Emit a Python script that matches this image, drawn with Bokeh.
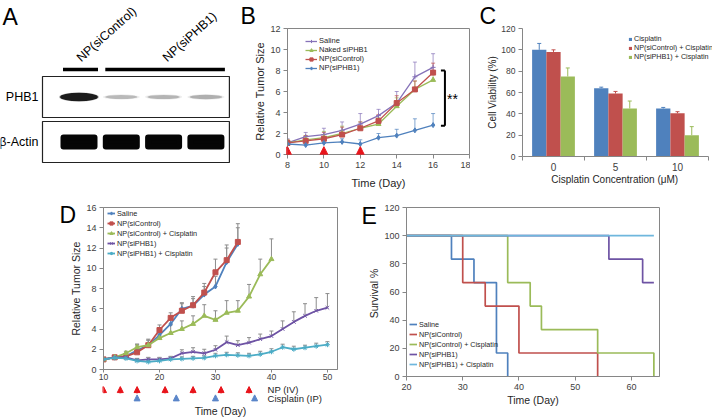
from bokeh.plotting import figure
from bokeh.models import (Range1d, FixedTicker, Whisker, TeeHead, Arrow, NormalHead,
                          Label, Legend, LegendItem, ColumnDataSource)
from bokeh.layouts import row, column
from bokeh.embed import file_html
from bokeh.resources import INLINE
from bokeh.core.properties import value

# ---------------- data ----------------
# Panel A: western blot
blot_rows = ["PHB1", "β-Actin"]
blot_groups = ["NP(siControl)", "NP(siPHB1)"]
blot_group_lanes = [[0], [1, 2, 3]]
phb1_intensity = [1.0, 0.26, 0.28, 0.30]
actin_intensity = [1.0, 1.0, 1.0, 1.0]

# Panel B
b_days = [8, 9, 10, 11, 12, 13, 14, 15, 16]
b_names = ["Saline", "Naked siPHB1", "NP(siControl)", "NP(siPHB1)"]
b_saline = [1.1, 1.7, 1.9, 2.3, 2.9, 3.7, 4.9, 7.4, 8.3]
b_saline_up = [1.5, 2.1, 2.5, 3.1, 3.9, 4.3, 6.0, 8.8, 9.6]
b_naked = [1.1, 1.4, 1.6, 2.0, 2.5, 2.9, 4.6, 6.2, 7.1]
b_naked_up = [1.4, 1.8, 2.2, 2.7, 3.1, 3.5, 5.4, 7.0, 8.0]
b_npctrl = [1.1, 1.3, 1.5, 1.9, 2.5, 3.2, 4.9, 6.2, 7.8]
b_npctrl_up = [1.4, 1.8, 2.1, 2.6, 3.1, 3.8, 5.6, 7.0, 8.7]
b_npphb1 = [1.0, 0.9, 1.1, 1.2, 1.0, 1.6, 1.8, 2.3, 2.8]
b_npphb1_up = [1.3, 1.2, 1.5, 1.5, 1.4, 2.0, 2.4, 3.4, 3.9]
b_dose_days = [8, 10, 12]

# Panel C
c_conc = ["0", "5", "10"]
c_names = ["Cisplatin", "NP(siControl) + Cisplatin", "NP(siPHB1) + Cisplatin"]
c_cis = [100, 64, 45]
c_cis_up = [106, 65, 46]
c_ctrl = [98, 59, 40.5]
c_ctrl_up = [100, 61, 42]
c_phb = [75, 45, 20]
c_phb_up = [83, 52, 28]

# Panel D
d_names = ["Saline", "NP(siControl)", "NP(siControl) + Cisplatin", "NP(siPHB1)", "NP(siPHB1) + Cisplatin"]
d_days_a = [10, 12, 14, 16, 18, 20, 22, 24, 26, 28, 30, 32, 34]
d_days_b = [10, 12, 14, 16, 18, 20, 22, 24, 26, 28, 30, 32, 34, 36, 38, 40]
d_days_c = [10, 12, 14, 16, 18, 20, 22, 24, 26, 28, 30, 32, 34, 36, 38, 40, 42, 44, 46, 48, 50]
d_saline = [1.0, 1.2, 1.3, 1.9, 2.4, 3.4, 4.5, 6.0, 6.3, 7.4, 8.2, 10.6, 12.4]
d_saline_up = [1.05, 1.35, 1.55, 2.4, 2.9, 4.0, 5.1, 6.5, 7.0, 8.2, 9.2, 12.0, 14.0]
d_ctrl = [1.0, 1.2, 1.3, 1.7, 2.4, 3.9, 5.1, 5.8, 6.35, 7.6, 9.6, 10.8, 12.6]
d_ctrl_up = [1.05, 1.4, 1.6, 2.5, 3.0, 4.4, 5.6, 6.6, 7.2, 8.5, 10.9, 12.3, 14.4]
d_ctrl_cis = [1.0, 1.2, 1.6, 2.2, 2.4, 3.1, 3.6, 4.0, 4.5, 5.3, 4.9, 5.6, 5.8, 7.2, 9.4, 10.9]
d_ctrl_cis_up = [1.05, 1.4, 1.8, 2.5, 2.9, 3.5, 4.4, 4.8, 5.3, 6.4, 5.8, 6.8, 6.8, 8.4, 10.9, 12.9]
d_phb = [1.0, 1.2, 1.2, 0.9, 1.0, 1.0, 1.1, 1.6, 1.75, 1.6, 1.95, 2.7, 2.4, 2.65, 3.0, 3.3, 4.0, 4.7, 5.3, 5.8, 6.1]
d_phb_up = [1.05, 1.35, 1.4, 1.1, 1.2, 1.2, 1.3, 1.95, 2.15, 2.0, 2.35, 3.3, 2.85, 3.15, 3.5, 3.8, 4.8, 5.7, 6.5, 7.1, 7.5]
d_phb_cis = [1.0, 1.15, 1.1, 0.85, 0.75, 0.85, 1.0, 1.05, 1.1, 1.15, 1.35, 1.45, 1.4, 1.35, 1.5, 1.75, 2.2, 2.0, 2.15, 2.3, 2.45]
d_phb_cis_up = [1.05, 1.3, 1.3, 1.05, 0.95, 1.05, 1.2, 1.25, 1.3, 1.35, 1.6, 1.7, 1.65, 1.6, 1.8, 2.05, 2.5, 2.3, 2.4, 2.6, 2.75]
d_np_days = [10, 13, 16, 21, 26, 31, 36]
d_cis_days = [16, 23, 30, 37]
d_schedule = ["NP (IV)", "Cisplatin (IP)"]

# Panel E (survival, step after)
e_saline_t = [20, 28, 32, 36, 38]
e_saline_s = [100, 83.3, 66.7, 16.7, 0]
e_ctrl_t = [20, 30, 34, 40, 54]
e_ctrl_s = [100, 66.7, 50, 16.7, 0]
e_ctrl_cis_t = [20, 38, 42, 44, 54, 64]
e_ctrl_cis_s = [100, 66.7, 50, 33.3, 16.7, 0]
e_phb_t = [20, 56, 62, 64]
e_phb_s = [100, 83.3, 66.7, 66.7]
e_phb_cis_t = [20, 64]
e_phb_cis_s = [100, 100]

# ---------------- styling helpers ----------------
FONT = "Liberation Sans"
AX = "#868686"
TXT = "#404040"


def fpx(v):
    return f"{v:.1f}px"


def mkfig(w, h, left, right, top, bottom, **kw):
    return figure(width=w, height=h, toolbar_location=None, output_backend="svg",
                  frame_align=False, min_border_left=left, min_border_right=right,
                  min_border_top=top, min_border_bottom=bottom, **kw)


def style(p, tick_fs, label_fs, xstand, ystand):
    p.grid.visible = False
    for ax in p.axis:
        ax.axis_line_color = AX
        ax.major_tick_line_color = AX
        ax.major_tick_out = 4
        ax.major_tick_in = 0
        ax.minor_tick_line_color = None
        ax.major_label_text_font = FONT
        ax.major_label_text_font_size = fpx(tick_fs)
        ax.major_label_text_color = TXT
        ax.major_label_standoff = 3
        ax.axis_label_text_font = FONT
        ax.axis_label_text_font_size = fpx(label_fs)
        ax.axis_label_text_font_style = "normal"
        ax.axis_label_text_color = "#262626"
    p.xaxis.axis_label_standoff = xstand
    p.yaxis.axis_label_standoff = ystand


def place_legend(p, items, frame_h, left, top, pitch, font, glyph_w, glyph_h=None):
    n = len(items)
    leg = Legend(items=items, location=(left, frame_h - top - n * pitch), padding=0, margin=0,
                 spacing=0, label_height=int(round(pitch)),
                 glyph_height=glyph_h if glyph_h else int(round(pitch)), glyph_width=glyph_w,
                 label_standoff=2, border_line_color=None, background_fill_alpha=0,
                 label_text_font=FONT, label_text_font_size=fpx(font),
                 label_text_color="#262626", label_text_baseline="middle")
    p.add_layout(leg)


def letter(p, text, offset, standoff):
    p.title.text = text
    p.title.align = "left"
    p.title.offset = offset
    p.title.standoff = standoff
    p.title.text_font = FONT
    p.title.text_font_size = fpx(23)
    p.title.text_font_style = "normal"
    p.title.text_color = "black"


# ---------------- Panel A ----------------
pA = figure(width=230, height=200, x_range=Range1d(0, 230), y_range=Range1d(200, 0),
            toolbar_location=None, output_backend="svg", min_border=0, frame_align=False,
            x_axis_type=None, y_axis_type=None, title=None)
pA.grid.visible = False
pA.outline_line_color = None
lane_x = [78.5 + 42.3 * i for i in range(len(phb1_intensity))]
row_y = [96.5, 141.5]
pA.quad(left=[lane_x[0] - 36.5] * 2, right=[lane_x[-1] + 23.5] * 2,
        top=[r - 20.5 for r in row_y], bottom=[r + 20.5 for r in row_y],
        fill_color="white", line_color="#222222", line_width=1.2)
pA.ellipse(x=lane_x, y=[row_y[0]] * 4, width=[30 + 8 * v for v in phb1_intensity],
           height=[2.5 + 6 * v for v in phb1_intensity], fill_color="black",
           fill_alpha=[0.85 * v for v in phb1_intensity], line_color=None)
pA.ellipse(x=lane_x, y=[row_y[0]] * 4, width=[36 + 4 * v for v in phb1_intensity],
           height=[4 + 5 * v for v in phb1_intensity], fill_color="black",
           fill_alpha=[0.25 * v for v in phb1_intensity], line_color=None)
# actin bands: rounded rectangles (thick round-joined outline)
pA.rect(x=lane_x, y=[row_y[1]] * 4, width=[31 * v for v in actin_intensity],
        height=[9 * v for v in actin_intensity], fill_color="#050505",
        line_color="#050505", line_width=6, line_join="round")
gx0 = [lane_x[g[0]] - 16 for g in blot_group_lanes]
gx1 = [lane_x[g[-1]] + 19 for g in blot_group_lanes]
pA.segment(x0=gx0, y0=[69, 69], x1=gx1, y1=[69, 69], line_color="black", line_width=3.3)
pA.text(x=[lane_x[0] - 0.5, lane_x[2] + 1], y=[59, 59], text=blot_groups, angle=0.73,
        text_font=value(FONT), text_font_size=fpx(12.5), text_baseline="alphabetic",
        text_align="left", text_color="black")
pA.text(x=[38, 38], y=row_y, text=blot_rows, text_font=value(FONT), text_font_size=fpx(12.5),
        text_baseline="middle", text_align="right", text_color="black")
pA.text(x=[2], y=[3], text=["A"], text_font=value(FONT), text_font_size=fpx(23),
        text_baseline="top", text_align="left", text_color="black")

# ---------------- Panel B ----------------
wB, hB = 240, 200
lB, rB, tB, bB = 57, 1, 28, 46
pB = mkfig(wB, hB, lB, rB, tB, bB, x_range=Range1d(8, 18), y_range=Range1d(0, 12))
pB.xaxis.ticker = FixedTicker(ticks=[8, 10, 12, 14, 16, 18])
pB.yaxis.ticker = FixedTicker(ticks=[0, 2, 4, 6, 8, 10, 12])
pB.xaxis.axis_label = "Time (Day)"
pB.yaxis.axis_label = "Relative Tumor Size"
style(pB, 9, 11, 6, 1)
pB.outline_line_color = AX
b_vals = [b_saline, b_naked, b_npctrl, b_npphb1]
b_ups = [b_saline_up, b_naked_up, b_npctrl_up, b_npphb1_up]
b_cols = ["#8672b8", "#9bbb59", "#c0504d", "#4f81bd"]
b_marks = ["cross", "triangle", "square", "diamond"]
itemsB = []
for name, vals, ups, col, mk in zip(b_names, b_vals, b_ups, b_cols, b_marks):
    src = ColumnDataSource(dict(x=b_days, y=vals, up=ups))
    pB.add_layout(Whisker(source=src, base="x", lower="y", upper="up", line_color=col,
                          line_alpha=0.7, line_width=1,
                          upper_head=TeeHead(size=4, line_color=col, line_alpha=0.7, line_width=1),
                          lower_head=None))
    r1 = pB.line("x", "y", source=src, color=col, line_width=1.3)
    r2 = pB.scatter("x", "y", source=src, marker=mk, size=5, color=col)
    itemsB.append(LegendItem(label=name, renderers=[r1, r2]))
place_legend(pB, itemsB, hB - tB - bB, 18, 12, 8.1, 7.5, 12)
arrB = ColumnDataSource(dict(x=b_dose_days, y0=[-0.5] * 3, y1=[0.75] * 3))
pB.add_layout(Arrow(source=arrB, x_start="x", y_start="y0", x_end="x", y_end="y1",
                    line_color="#e8141b", line_width=2.6,
                    end=NormalHead(size=8, fill_color="#e8141b", line_color="#e8141b")))
pB.segment(x0=[16.65, 16.43, 16.43], y0=[2.75, 2.75, 8.0], x1=[16.65, 16.65, 16.65],
           y1=[8.0, 2.75, 8.0], line_color="black", line_width=2)
pB.add_layout(Label(x=16.76, y=5.3, text="**", text_font=FONT, text_font_size=fpx(14),
                    text_baseline="middle", text_color="black"))
letter(pB, "B", -47, 0)

# ---------------- Panel C ----------------
wC, hC = 242, 200
lC, rC, tC, bC = 52, 0, 28, 44
pC = mkfig(wC, hC, lC, rC, tC, bC, x_range=Range1d(0, 190 / 62), y_range=Range1d(0, 120))
pC.xaxis.ticker = FixedTicker(ticks=[0.5, 1.5, 2.5], minor_ticks=[0, 1, 2, 3])
pC.xaxis.major_label_overrides = {0.5 + i: c for i, c in enumerate(c_conc)}
pC.yaxis.ticker = FixedTicker(ticks=[0, 20, 40, 60, 80, 100, 120])
pC.xaxis.axis_label = "Cisplatin  Concentration  (μM)"
pC.yaxis.axis_label = "Cell Viability (%)"
style(pC, 8.5, 10, 0, 0)
pC.xaxis.major_tick_out = 0
pC.xaxis.minor_tick_out = 4
pC.xaxis.minor_tick_in = 0
pC.xaxis.minor_tick_line_color = AX
pC.xaxis.major_label_standoff = 2
pC.xaxis.major_label_text_font_size = fpx(10)
pC.xaxis.bounds = (0, 3)
pC.outline_line_color = None
c_vals = [c_cis, c_ctrl, c_phb]
c_ups = [c_cis_up, c_ctrl_up, c_phb_up]
c_cols = ["#4f81bd", "#c0504d", "#9bbb59"]
c_offs = [-0.23, 0.0, 0.23]
itemsC = []
for name, vals, ups, col, off in zip(c_names, c_vals, c_ups, c_cols, c_offs):
    xs = [i + 0.5 + off for i in range(len(c_conc))]
    src = ColumnDataSource(dict(x=xs, y=vals, up=ups))
    r = pC.vbar(x="x", top="y", width=0.23, source=src, fill_color=col, line_color=None)
    pC.add_layout(Whisker(source=src, base="x", lower="y", upper="up", line_color=col,
                          line_width=1,
                          upper_head=TeeHead(size=4, line_color=col, line_width=1),
                          lower_head=None))
    itemsC.append(LegendItem(label=name, renderers=[r]))
place_legend(pC, itemsC, hC - tC - bC, 106, 5.7, 9.2, 7.2, 4, 4)
letter(pC, "C", -43, 0)

# ---------------- Panel D (main + schedule strip) ----------------
wD = 360
hDm = 183
lD, rD, tD, bD = 103, 23, 7, 14
xrD = Range1d(10, 51.8)
pD = mkfig(wD, hDm, lD, rD, tD, bD, x_range=xrD, y_range=Range1d(0, 16))
pD.xaxis.ticker = FixedTicker(ticks=[10, 20, 30, 40, 50])
pD.yaxis.ticker = FixedTicker(ticks=[0, 2, 4, 6, 8, 10, 12, 14, 16])
pD.yaxis.axis_label = "Relative Tumor Size"
style(pD, 9, 10.5, 0, 1)
pD.xaxis.major_tick_out = 3
pD.xaxis.major_label_standoff = 1
pD.xaxis.major_label_text_font_size = fpx(8.6)
pD.outline_line_color = AX
d_x = [d_days_a, d_days_a, d_days_b, d_days_c, d_days_c]
d_vals = [d_saline, d_ctrl, d_ctrl_cis, d_phb, d_phb_cis]
d_ups = [d_saline_up, d_ctrl_up, d_ctrl_cis_up, d_phb_up, d_phb_cis_up]
d_cols = ["#4f81bd", "#c0504d", "#9bbb59", "#6e53a4", "#4bacc6"]
d_marks = ["diamond", "square", "triangle", "x", "asterisk"]
itemsD = []
for name, xs, vals, ups, col, mk in zip(d_names, d_x, d_vals, d_ups, d_cols, d_marks):
    src = ColumnDataSource(dict(x=xs, y=vals, up=ups))
    pD.add_layout(Whisker(source=src, base="x", lower="y", upper="up", line_color="#8c8c8c",
                          line_width=1,
                          upper_head=TeeHead(size=4, line_color="#8c8c8c", line_width=1),
                          lower_head=None))
    r1 = pD.line("x", "y", source=src, color=col, line_width=1.8)
    r2 = pD.scatter("x", "y", source=src, marker=mk, size=5, color=col)
    itemsD.append(LegendItem(label=name, renderers=[r1, r2]))
place_legend(pD, itemsD, hDm - tD - bD, 4, 2.1, 9.8, 7.3, 8)
letter(pD, "D", -44, -40)

# schedule strip below D: y = 1 for NP (IV), y = 0 for Cisplatin (IP)
hDs = 419 - 383
pDs = mkfig(wD, hDs, lD, rD, 0, 12, x_range=xrD, y_range=Range1d(-0.7, 1.7),
            y_axis_type=None, title=None)
pDs.grid.visible = False
pDs.outline_line_color = None
pDs.xaxis.ticker = FixedTicker(ticks=[])
pDs.xaxis.axis_line_color = None
pDs.xaxis.major_tick_line_color = None
pDs.xaxis.minor_tick_line_color = None
pDs.xaxis.major_tick_out = 0
pDs.xaxis.major_label_standoff = 0
pDs.xaxis.axis_label = "Time (Day)"
pDs.xaxis.axis_label_standoff = 0
pDs.xaxis.axis_label_text_font = FONT
pDs.xaxis.axis_label_text_font_size = fpx(10.5)
pDs.xaxis.axis_label_text_font_style = "normal"
pDs.xaxis.axis_label_text_color = "#262626"
arrD1 = ColumnDataSource(dict(x=d_np_days, y0=[0.6] * len(d_np_days), y1=[1.35] * len(d_np_days)))
arrD2 = ColumnDataSource(dict(x=d_cis_days, y0=[-0.2] * len(d_cis_days), y1=[0.4] * len(d_cis_days)))
pDs.add_layout(Arrow(source=arrD1, x_start="x", y_start="y0", x_end="x", y_end="y1",
                     line_color="#e8141b", line_width=2,
                     end=NormalHead(size=6, fill_color="#e8141b", line_color="#e8141b")))
pDs.add_layout(Arrow(source=arrD2, x_start="x", y_start="y0", x_end="x", y_end="y1",
                     line_color="#5b86c9", line_width=2,
                     end=NormalHead(size=6, fill_color="#5b86c9", line_color="#5b86c9")))
pDs.text(x=[39.3, 39.3], y=[1, 0], text=d_schedule, text_font=value(FONT),
         text_font_size=fpx(9.5), text_baseline="middle", text_align="left", text_color="#262626")

# ---------------- Panel E ----------------
wE, hE = 352, 219
lE, rE, tE, bE = 46, 53, 7, 43
pE = mkfig(wE, hE, lE, rE, tE, bE, x_range=Range1d(20, 65), y_range=Range1d(0, 120))
pE.xaxis.ticker = FixedTicker(ticks=[20, 30, 40, 50, 60])
pE.yaxis.ticker = FixedTicker(ticks=[0, 20, 40, 60, 80, 100, 120])
pE.xaxis.axis_label = "Time (Day)"
pE.yaxis.axis_label = "Survival  %"
style(pE, 9, 10.5, 1, 1)
pE.outline_line_color = AX
e_t = [e_saline_t, e_ctrl_t, e_ctrl_cis_t, e_phb_t, e_phb_cis_t]
e_s = [e_saline_s, e_ctrl_s, e_ctrl_cis_s, e_phb_s, e_phb_cis_s]
e_cols = ["#4f81bd", "#c0504d", "#9bbb59", "#6e53a4", "#6fb7dd"]
itemsE = []
for name, t, s, col in zip(d_names, e_t, e_s, e_cols):
    r = pE.step(t, s, mode="after", line_color=col, line_width=1.7)
    itemsE.append(LegendItem(label=name, renderers=[r]))
place_legend(pE, itemsE, hE - tE - bE, 3, 114.2, 9.6, 7.2, 8)
letter(pE, "E", -45, -42)

layout = column(row(pA, pB, pC), row(column(pD, pDs), pE))
open("out.html", "w").write(file_html(layout, INLINE))
